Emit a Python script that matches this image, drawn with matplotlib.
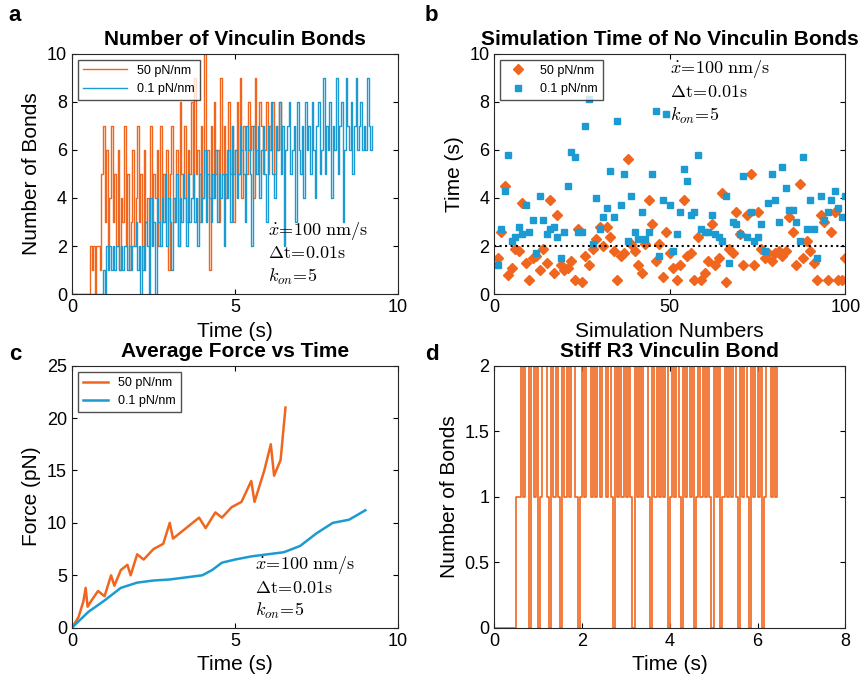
import numpy as np
import matplotlib.pyplot as plt
from matplotlib.ticker import FormatStrFormatter

plt.rcParams['font.family'] = ['Liberation Sans', 'DejaVu Sans']
plt.rcParams['mathtext.fontset'] = 'cm'

ORANGE = '#F0661E'
BLUE = '#1C9BD3'

# panel a: number of bonds, sampled every 0.05 s
dt_a = 0.05
bonds_50 = [0,0,0,0,0,0,0,0,0,0,0,2,1,2,0,2,2,1,5,7,3,6,2,4,7,3,5,2,6,1,4,3,7,2,5,1,3,6,2,4,7,3,5,1,6,3,4,2,7,
            3,5,4,6,2,7,3,5,4,6,1,5,7,3,4,6,2,8,5,4,7,3,6,5,8,4,9,5,6,3,7,4,10,5,6,1,7,4,8,5,6,3,9,5,7,4,6,8,5,7,
            3,6,8,5,9,4,7,6,5,8,6,7,4,9,6,5,8,7,5,6,8,5,7,6,8,5,7,6,8,6,7]
bonds_01 = [0,0,0,0,0,0,0,0,0,0,0,0,0,0,0,0,0,0,0,1,0,2,1,2,1,2,1,2,2,1,2,1,2,2,1,2,1,2,2,3,1,2,0,2,1,3,2,0,4,2,3,0,4,3,
            2,4,3,5,2,4,3,1,4,3,5,2,4,3,5,4,2,5,3,4,5,3,4,2,5,3,4,6,3,5,4,3,5,4,6,3,5,4,5,2,5,4,6,3,7,5,6,4,5,7,
            6,5,3,7,6,5,2,7,6,5,7,4,6,7,5,3,7,6,8,5,4,7,6,8,5,7,2,6,7,8,5,6,7,3,8,6,5,7,4,8,6,7,5,8,6,4,7,8,5,6,
            9,5,7,6,8,4,7,6,9,5,7,8,3,6,9,7,6,8,5,7,9,6,7,8,6,7,6,9,7,6,7]

# panel b: time with no vinculin bonds, per simulation
sims = np.arange(1, 101)
time_50 = [1.5,2.6,4.5,0.8,1.1,1.9,1.8,3.8,1.3,0.6,1.5,1.6,1.0,1.9,1.3,3.9,0.9,3.3,1.2,1.0,1.1,1.4,0.6,2.7,0.5,1.6,1.2,1.9,2.3,2.8,
           2.0,2.8,2.4,1.8,0.6,1.6,1.7,5.6,2.1,1.8,1.2,0.9,2.1,3.9,2.9,1.4,2.1,0.7,2.6,1.7,1.1,0.6,1.2,3.9,1.6,1.7,0.6,2.4,0.6,0.9,
           1.4,2.9,1.2,1.5,4.2,0.5,1.9,1.7,3.4,2.5,1.2,3.3,5.0,1.2,3.4,1.9,1.5,1.7,1.4,1.7,1.8,1.6,1.8,3.2,2.6,1.2,4.6,1.5,2.2,1.8,
           1.3,0.6,3.3,3.0,0.6,2.6,3.4,0.6,0.6,1.5]
time_01 = [1.2,2.7,4.3,5.8,2.2,2.4,2.8,2.5,3.7,2.6,3.1,1.7,4.1,3.1,2.5,2.7,2.8,2.4,1.5,2.6,4.5,5.9,5.7,2.6,2.6,7.0,8.1,2.1,4.0,2.7,
           3.2,3.6,5.1,3.2,7.2,3.7,5.0,2.2,4.1,2.6,2.3,3.4,2.3,2.6,5.0,7.6,1.6,3.9,7.5,3.7,1.8,2.5,3.4,5.2,4.7,3.3,3.4,5.8,2.7,2.6,
           2.6,3.3,2.5,2.4,2.2,4.1,1.3,3.0,2.9,2.5,4.9,2.4,3.4,2.2,2.4,2.9,1.8,3.8,5.0,3.9,3.0,5.3,4.4,3.5,3.5,3.0,2.2,5.7,2.7,3.9,
           2.7,1.5,4.1,3.1,3.4,3.9,4.3,3.6,3.2,4.1]

# panel c: average force vs time
t_c50 = [0,0.2,0.35,0.42,0.48,0.6,0.8,1.0,1.2,1.3,1.5,1.7,1.8,2.0,2.2,2.5,2.8,3.0,3.1,3.5,3.9,4.1,4.4,4.6,4.9,5.2,5.5,5.6,5.9,6.1,6.2,6.4,6.55]
f_c50 = [0,1.0,2.5,3.8,2.0,2.6,3.5,3.0,5.0,4.0,5.5,6.0,5.0,7.0,6.5,7.5,8.0,10.0,8.5,9.5,10.5,9.5,11.0,10.5,11.5,12.0,14.0,12.0,15.0,17.5,14.5,16.0,21.0]
t_c01 = [0,0.5,1.0,1.5,2.0,2.5,3.0,3.5,4.0,4.3,4.6,5.0,5.5,6.0,6.5,7.0,7.5,8.0,8.5,9.0]
f_c01 = [0,1.5,2.6,3.8,4.3,4.5,4.6,4.8,5.0,5.5,6.2,6.5,6.8,7.0,7.2,7.8,9.0,10.0,10.3,11.2]

# panel d: stiff R3 vinculin bond
dt_d = 0.05
bonds_r3 = [0,0,0,0,0,0,0,0,0,0,1,1,2,1,2,2,0,2,1,2,0,1,2,2,1,0,2,1,2,1,0,2,1,2,1,2,2,1,0,1,
            2,1,2,2,1,2,1,2,1,2,2,1,2,1,0,2,1,2,1,2,1,2,1,0,2,1,2,1,2,2,1,0,2,1,2,1,2,1,2,0,
            1,2,1,2,1,0,2,1,2,1,2,0,1,2,1,2,1,2,1,0,2,1,2,0,1,2,1,2,1,2,1,0,2,1,2,1,0,2,1,2,
            1,2,0,1,2,2,1,2,1,2]

fig = plt.figure(figsize=(8.67, 6.86), dpi=100)
ax_a = fig.add_axes([0.083, 0.571, 0.376, 0.351])
ax_b = fig.add_axes([0.570, 0.571, 0.405, 0.351])
ax_c = fig.add_axes([0.083, 0.085, 0.376, 0.382])
ax_d = fig.add_axes([0.570, 0.085, 0.405, 0.382])

params_txt = ('$\\dot{x}\\!=\\!100\\ \\mathrm{nm/s}$\n$\\Delta\\mathrm{t}\\!=\\!0.01\\mathrm{s}$\n'
              '$k_{on}\\!=\\!5$')

for ax in (ax_a, ax_b, ax_c, ax_d):
    ax.tick_params(direction='in', labelsize=13, top=True, right=True)
    for s in ax.spines.values():
        s.set_color('#262626')

# a
ax_a.step(np.arange(len(bonds_50)) * dt_a, bonds_50, where='post', color=ORANGE, lw=1, label='50 pN/nm')
ax_a.step(np.arange(len(bonds_01)) * dt_a, bonds_01, where='post', color=BLUE, lw=1, label='0.1 pN/nm')
ax_a.set_xlim(0, 10)
ax_a.set_ylim(0, 10)
ax_a.set_xticks([0, 5, 10])
ax_a.set_yticks([0, 2, 4, 6, 8, 10])
ax_a.set_xlabel('Time (s)', fontsize=15)
ax_a.set_ylabel('Number of Bonds', fontsize=15)
ax_a.set_title('Number of Vinculin Bonds', fontsize=15, fontweight='bold')
ax_a.legend(loc='upper left', fontsize=9, fancybox=False, edgecolor='#262626', handlelength=3.5)
ax_a.text(6.0, 0.3, params_txt, fontsize=13, va='bottom', linespacing=1.3)

# b
ax_b.plot(sims, time_50, 'D', color=ORANGE, ms=5, label='50 pN/nm')
ax_b.plot(sims, time_01, 's', color=BLUE, ms=4.5, label='0.1 pN/nm')
ax_b.axhline(2, color='black', ls=':', lw=1.5)
ax_b.set_xlim(0, 100)
ax_b.set_ylim(0, 10)
ax_b.set_xticks([0, 50, 100])
ax_b.set_yticks([0, 2, 4, 6, 8, 10])
ax_b.set_xlabel('Simulation Numbers', fontsize=15)
ax_b.set_ylabel('Time (s)', fontsize=15)
ax_b.set_title('Simulation Time of No Vinculin Bonds', fontsize=15, fontweight='bold')
ax_b.legend(loc='upper left', fontsize=9, fancybox=False, edgecolor='#262626')
ax_b.text(50, 9.8, params_txt, fontsize=13, va='top', linespacing=1.3)

# c
ax_c.plot(t_c50, f_c50, color=ORANGE, lw=1.8, label='50 pN/nm')
ax_c.plot(t_c01, f_c01, color=BLUE, lw=1.8, label='0.1 pN/nm')
ax_c.set_xlim(0, 10)
ax_c.set_ylim(0, 25)
ax_c.set_xticks([0, 5, 10])
ax_c.set_xlabel('Time (s)', fontsize=15)
ax_c.set_ylabel('Force (pN)', fontsize=15)
ax_c.set_title('Average Force vs Time', fontsize=15, fontweight='bold')
ax_c.legend(loc='upper left', fontsize=9, fancybox=False, edgecolor='#262626')
ax_c.text(5.6, 0.6, params_txt, fontsize=13, va='bottom', linespacing=1.3)

# d
ax_d.step(np.arange(len(bonds_r3)) * dt_d, bonds_r3, where='post', color=ORANGE, lw=1.2)
ax_d.set_xlim(0, 8)
ax_d.set_ylim(0, 2)
ax_d.set_yticks([0, 0.5, 1, 1.5, 2])
ax_d.yaxis.set_major_formatter(FormatStrFormatter('%g'))
ax_d.set_xlabel('Time (s)', fontsize=15)
ax_d.set_ylabel('Number of Bonds', fontsize=15)
ax_d.set_title('Stiff R3 Vinculin Bond', fontsize=15, fontweight='bold')

for lbl, x, y in [('a', 0.01, 0.97), ('b', 0.49, 0.97), ('c', 0.01, 0.475), ('d', 0.49, 0.475)]:
    fig.text(x, y, lbl, fontsize=16, fontweight='bold')

fig.savefig('out.png', dpi=100)
